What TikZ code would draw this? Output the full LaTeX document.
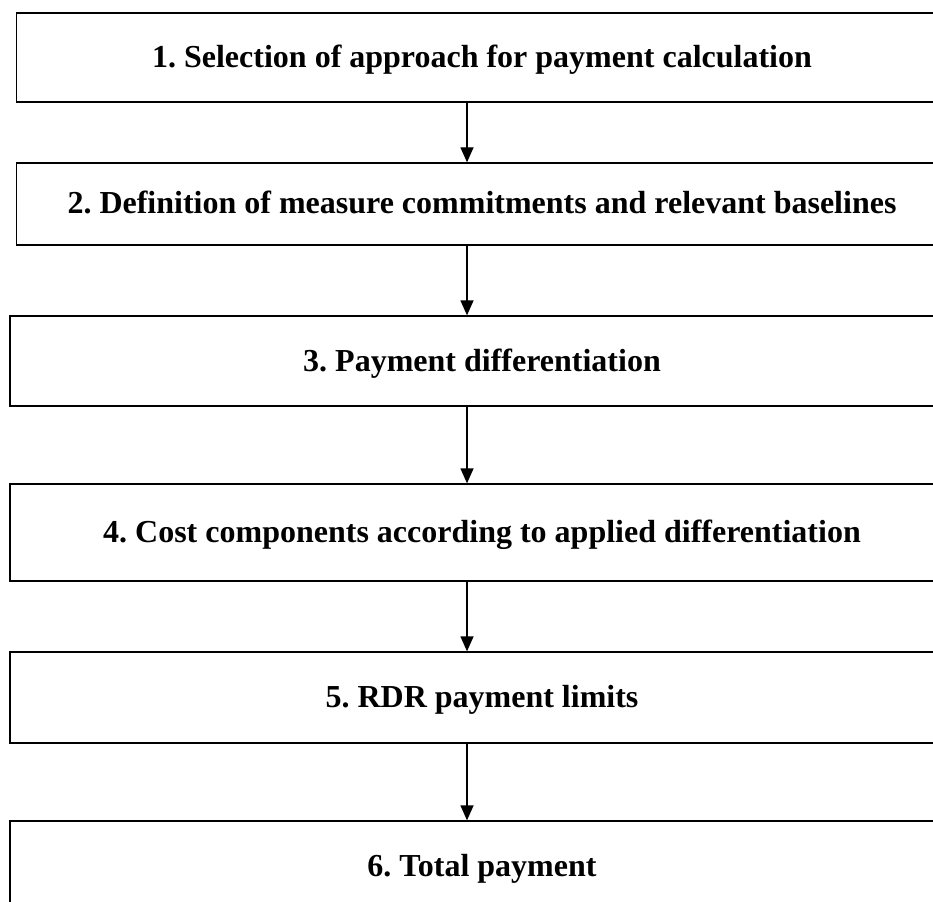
\documentclass[tikz,border=0pt]{standalone}
\usepackage{fontspec}
\setmainfont{Liberation Serif}
\usetikzlibrary{arrows.meta}
\begin{document}
\frenchspacing
\begin{tikzpicture}[x=1pt,y=1pt,
  box/.style={draw=black, line width=1.3pt, inner sep=0pt,
    font=\fontsize{32}{38}\selectfont\bfseries\frenchspacing,
    text height=20pt, text depth=0pt},
  boxA/.style={box, minimum width=931pt},
  boxB/.style={box, minimum width=944pt},
  arr/.style={draw=black, line width=1.3pt, -{Triangle[width=13pt,length=15pt]}}]
\useasboundingbox (0,0) rectangle (933,-901);
\clip (0,0) rectangle (933,-901);
\node[boxA, minimum height=89pt] (b1) at (482,-57.5) {1. Selection of approach for payment calculation};
\node[boxA, minimum height=82pt] (b2) at (482,-204) {2. Definition of measure commitments and relevant baselines};
\node[boxB, minimum height=90pt] (b3) at (482,-361) {3. Payment differentiation};
\node[boxB, minimum height=97pt] (b4) at (482,-532.5) {4. Cost components according to applied differentiation};
\node[boxB, minimum height=91pt] (b5) at (482,-697.5) {5. RDR payment limits};
\node[boxB, minimum height=90pt] (b6) at (482,-866) {6. Total payment};
\draw[arr] ([xshift=-15pt]b1.south) -- ([xshift=-15pt]b2.north);
\draw[arr] ([xshift=-15pt]b2.south) -- ([xshift=-15pt]b3.north);
\draw[arr] ([xshift=-15pt]b3.south) -- ([xshift=-15pt]b4.north);
\draw[arr] ([xshift=-15pt]b4.south) -- ([xshift=-15pt]b5.north);
\draw[arr] ([xshift=-15pt]b5.south) -- ([xshift=-15pt]b6.north);
\end{tikzpicture}
\end{document}
